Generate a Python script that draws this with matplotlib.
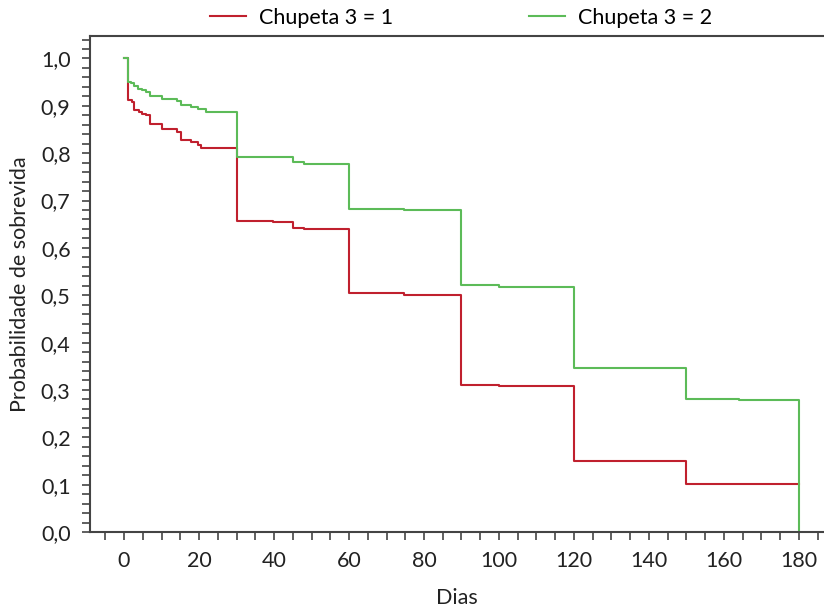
import matplotlib
matplotlib.use("Agg")
import matplotlib.pyplot as plt
from matplotlib.ticker import MultipleLocator, FuncFormatter

# Kaplan-Meier steps
dias_1 = [0, 1.1, 2, 2.7, 3.9, 4.8, 5.8, 6.8, 10, 14.1, 15.1, 17.8, 19.7, 20.6, 21.9,
          30, 39.8, 45, 48, 60, 74.7, 90, 100, 120, 150, 180]
surv_1 = [1.0, 0.913, 0.908, 0.892, 0.888, 0.883, 0.881, 0.862, 0.851, 0.845, 0.828, 0.824, 0.818, 0.812, 0.810,
          0.657, 0.654, 0.642, 0.640, 0.505, 0.501, 0.311, 0.308, 0.151, 0.102, 0.102]

dias_2 = [0, 1.1, 1.8, 2.7, 3.6, 4.8, 5.8, 6.8, 10, 14.1, 15.1, 17.8, 19.7, 21.9,
          30, 45, 48, 60, 74.7, 90, 100, 120, 150, 164.1, 180]
surv_2 = [1.0, 0.951, 0.948, 0.941, 0.936, 0.934, 0.929, 0.920, 0.915, 0.910, 0.902, 0.898, 0.893, 0.888,
          0.791, 0.782, 0.778, 0.683, 0.680, 0.521, 0.518, 0.346, 0.281, 0.278, 0.0]

labels = ["Chupeta 3 = 1", "Chupeta 3 = 2"]
colors = ["#C0202E", "#5CBB58"]

plt.rcParams["font.family"] = ["Lato", "DejaVu Sans"]
fs = 15.5

fig = plt.figure(figsize=(8.24, 6.08), dpi=100)
ax = fig.add_axes([90 / 824, 76 / 608, 734 / 824, 496 / 608])

ax.step(dias_1, surv_1, where="post", color=colors[0], lw=1.5, label=labels[0])
ax.step(dias_2, surv_2, where="post", color=colors[1], lw=1.5, label=labels[1])

ax.set_xlim(-9.07, 186.67)
ax.set_ylim(0, 1.0475)

ax.xaxis.set_major_locator(MultipleLocator(20))
ax.xaxis.set_minor_locator(MultipleLocator(5))
ax.yaxis.set_major_locator(MultipleLocator(0.1))
ax.yaxis.set_minor_locator(MultipleLocator(0.02))
ax.yaxis.set_major_formatter(FuncFormatter(lambda v, p: f"{v:.1f}".replace(".", ",")))

spine_col = "#444444"
for side in ["left", "bottom", "top"]:
    ax.spines[side].set_color(spine_col)
    ax.spines[side].set_linewidth(1.5)
ax.spines["right"].set_visible(False)

ax.tick_params(which="both", direction="out", length=6, width=1.2, color=spine_col)
ax.tick_params(axis="y", which="major", pad=8, labelsize=fs, labelcolor="#222222")
ax.tick_params(axis="x", which="major", pad=8, labelsize=fs, labelcolor="#222222")

ax.set_xlabel("Dias", fontsize=fs, color="#222222", labelpad=12)
ax.set_ylabel("Probabilidade de sobrevida", fontsize=fs, color="#222222", labelpad=8)

fig.legend(loc="center", bbox_to_anchor=(461 / 824, 1 - 18 / 608), ncol=2, frameon=False,
           fontsize=fs, handlelength=1.7, handletextpad=0.6, columnspacing=6.3)

fig.savefig("out.png", dpi=100)
